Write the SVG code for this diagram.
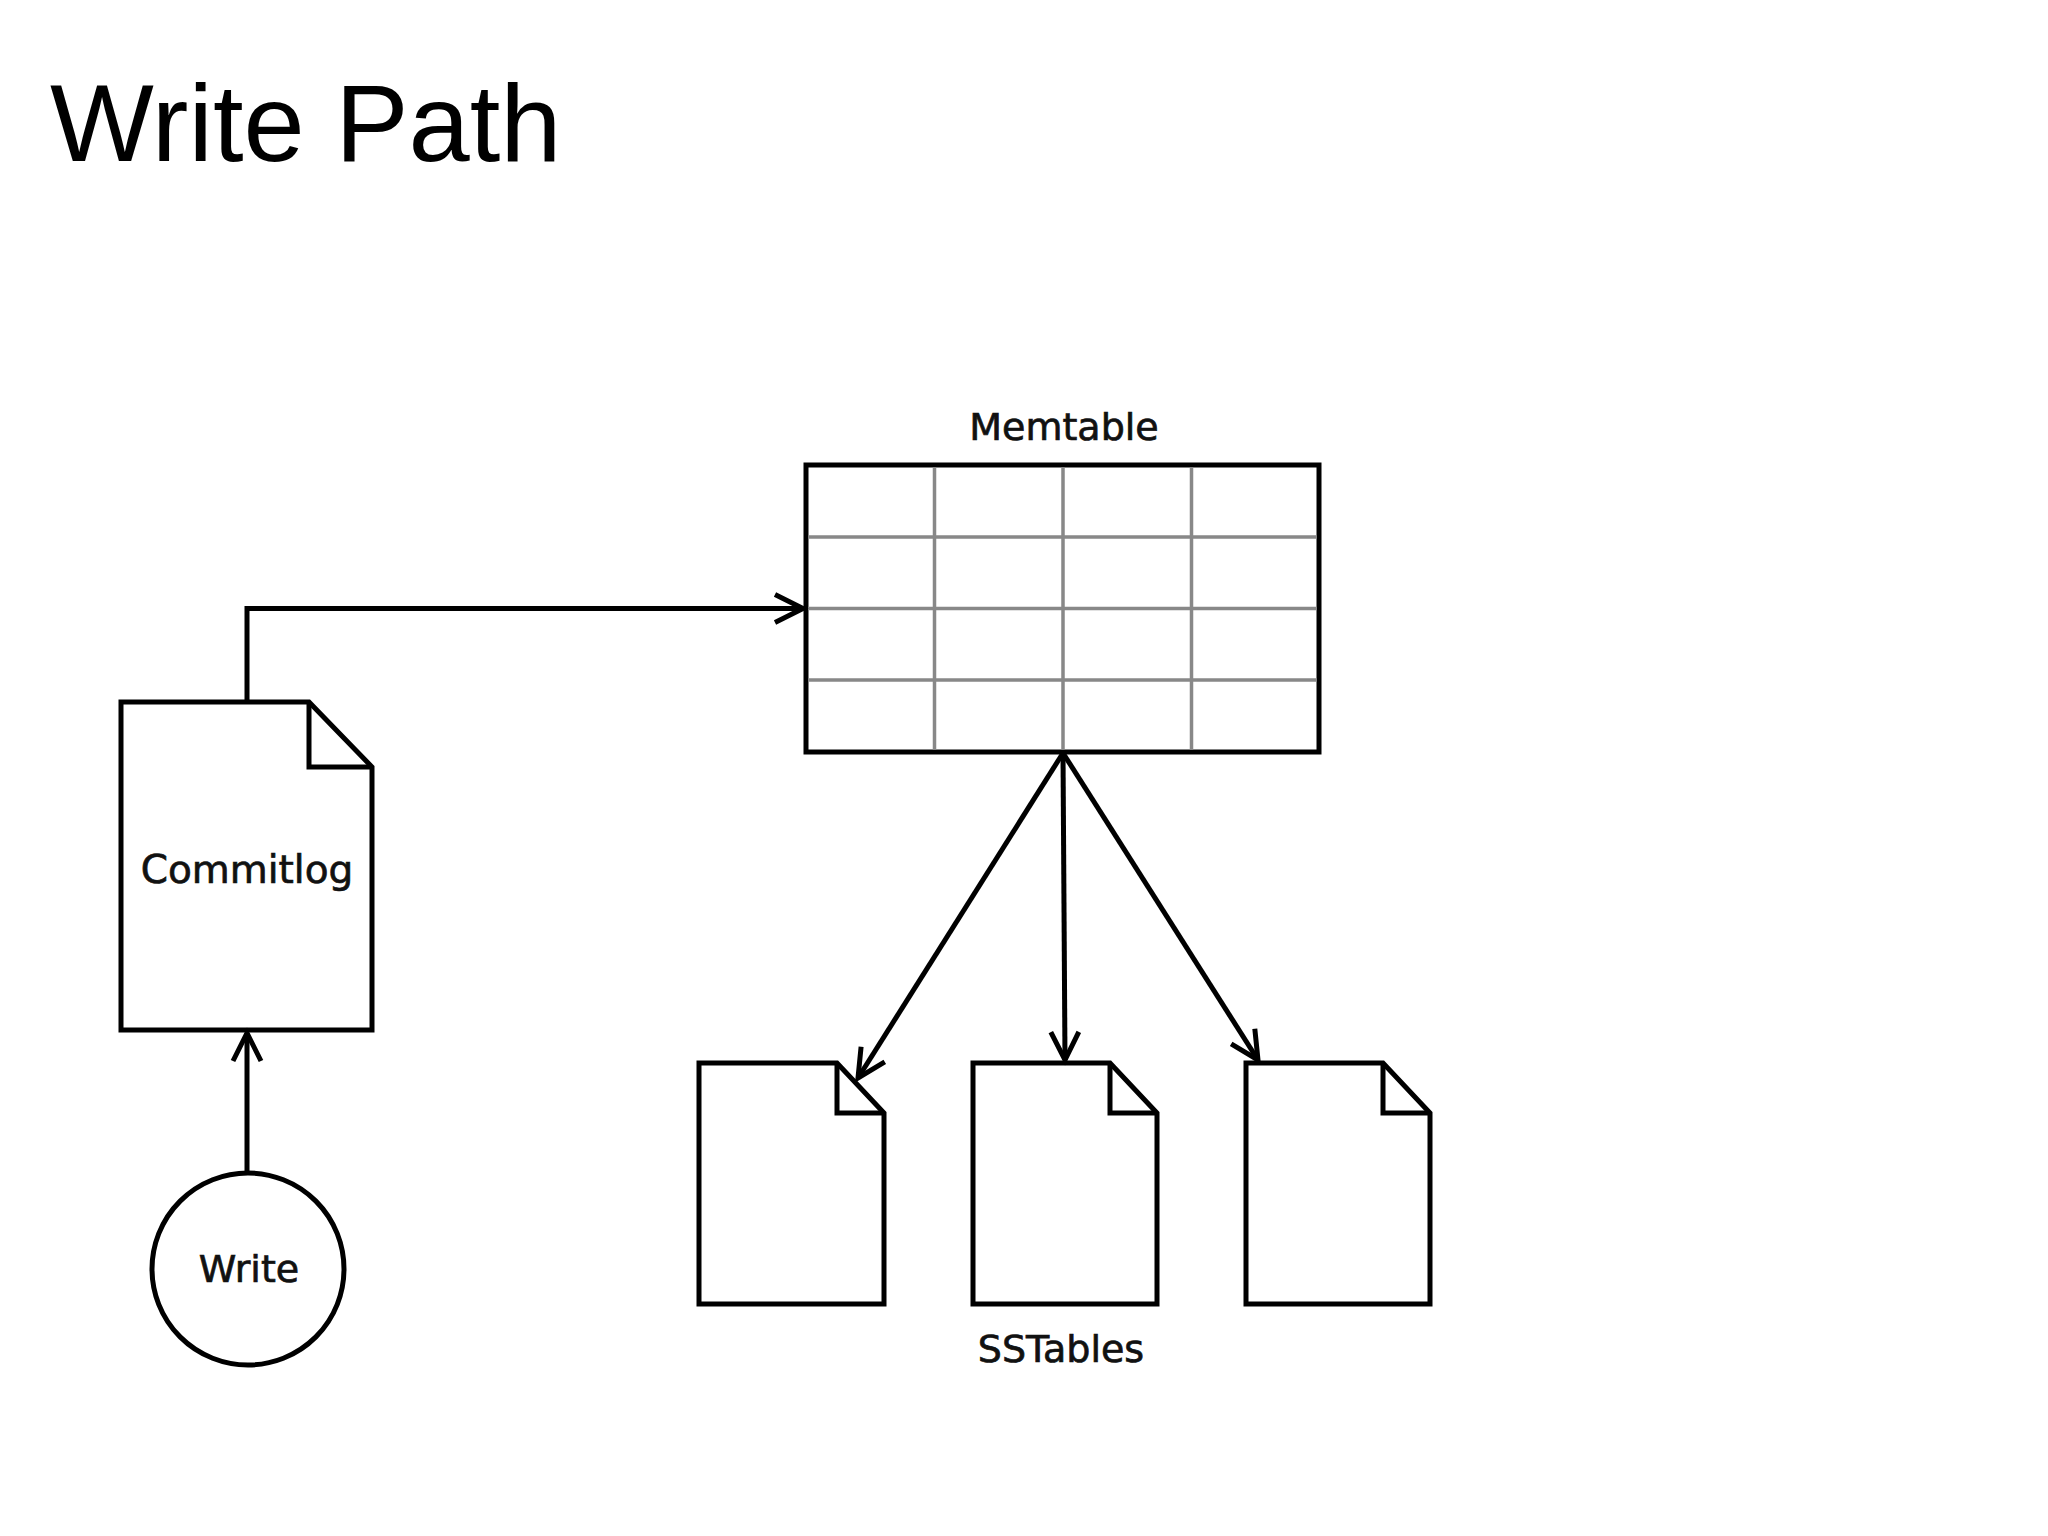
<svg xmlns="http://www.w3.org/2000/svg" width="2048" height="1536" viewBox="0 0 2048 1536">
  <style>
    .title { font-family: "Liberation Sans", Arial, sans-serif; font-size: 110px; fill: #000; }
    .lbl { font-family: "DejaVu Sans", sans-serif; font-size: 38px; fill: #111; stroke: #111; stroke-width: 0.7px; text-anchor: middle; }
    .shape { fill: #fff; stroke: #000; stroke-width: 5; stroke-linejoin: miter; }
    .grid { stroke: #888; stroke-width: 3.5; fill: none; }
    .conn { fill: none; stroke: #000; stroke-width: 5; }
  </style>
  <defs>
    <marker id="arr" markerUnits="userSpaceOnUse" markerWidth="60" markerHeight="60" viewBox="-40 -30 60 60" refX="0" refY="0" orient="auto" overflow="visible">
      <path d="M-28,-14 L0,0 L-28,14" fill="none" stroke="#000" stroke-width="5"/>
    </marker>
  </defs>
  <rect width="2048" height="1536" fill="#fff"/>
  <text class="title" x="50" y="161">Write Path</text>

  <g id="memtable">
    <text class="lbl" x="1064" y="440">Memtable</text>
    <rect class="shape" x="806" y="465" width="513" height="287"/>
    <path class="grid" d="M934.5,467 V750 M1063,467 V750 M1191.5,467 V750 M808,537 H1317 M808,608.5 H1317 M808,680 H1317"/>
  </g>

  <g id="commitlog">
    <path class="shape" d="M121,702 H309 L372,767 V1030 H121 Z"/>
    <path class="conn" d="M309,702 V767 H372"/>
    <text class="lbl" x="247" y="883" style="font-size:39px">Commitlog</text>
  </g>

  <g id="write">
    <circle class="shape" cx="248" cy="1269" r="96"/>
    <text class="lbl" x="249" y="1282">Write</text>
  </g>

  <g id="sstable1">
    <path class="shape" d="M699,1063 H837 L884,1113 V1304 H699 Z"/>
    <path class="conn" d="M837,1063 V1113 H884"/>
  </g>
  <g id="sstable2">
    <path class="shape" d="M973,1063 H1110 L1157,1113 V1304 H973 Z"/>
    <path class="conn" d="M1110,1063 V1113 H1157"/>
  </g>
  <g id="sstable3">
    <path class="shape" d="M1246,1063 H1383 L1430,1113 V1304 H1246 Z"/>
    <path class="conn" d="M1383,1063 V1113 H1430"/>
  </g>
  <text class="lbl" x="1061" y="1362">SSTables</text>

  <g id="connectors">
    <path class="conn" d="M247,702 V608.5 H803" marker-end="url(#arr)"/>
    <path class="conn" d="M247,1173 V1033" marker-end="url(#arr)"/>
    <path class="conn" d="M1063,753 L858,1078" marker-end="url(#arr)"/>
    <path class="conn" d="M1063,753 L1065,1060" marker-end="url(#arr)"/>
    <path class="conn" d="M1063,753 L1258,1060" marker-end="url(#arr)"/>
  </g>
</svg>
